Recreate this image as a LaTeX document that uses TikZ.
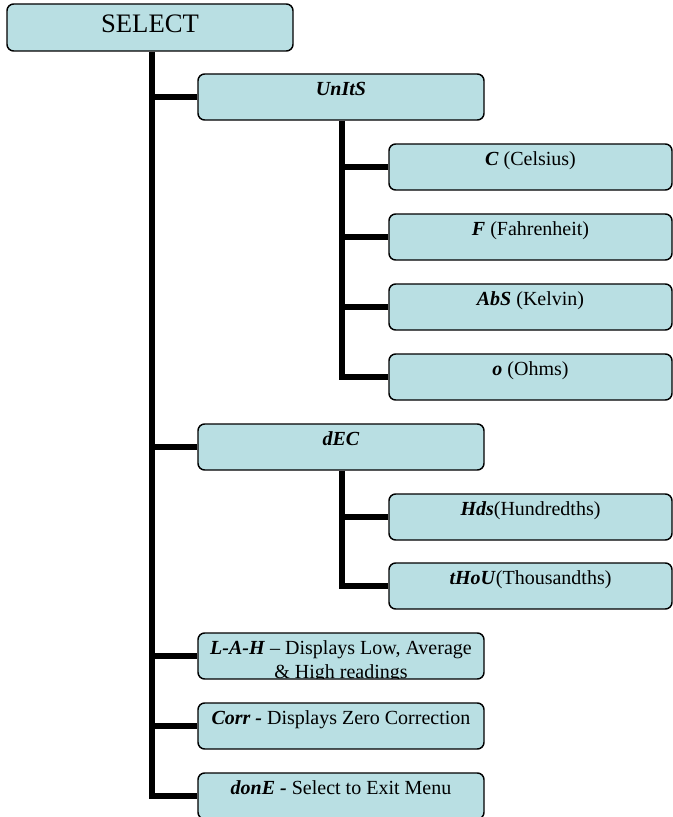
\documentclass[tikz,border=0pt]{standalone}
\usepackage{fontspec}
\setmainfont{Liberation Serif}
\definecolor{boxfill}{RGB}{185,223,227}
\newcommand\boxfont{\fontsize{15}{18}\selectfont}
\newcommand\kw[1]{\textbf{\textit{#1}}}
\tikzset{
  menubox/.style={draw=black, fill=boxfill, line width=1.1pt, rounded corners=5pt,
    inner sep=0pt, text height=15.75pt, text depth=18.75pt, font=\boxfont},
  headbox/.style={menubox, minimum width=214.5pt, text height=21.75pt, text depth=13.5pt,
    font=\fontsize{20}{24}\selectfont},
  topbox/.style={menubox, minimum width=214.5pt},
  subbox/.style={menubox, minimum width=212.25pt},
  branch/.style={line width=4.5pt}
}
\begin{document}
\begin{tikzpicture}[x=0.75pt,y=-0.75pt]
	  \useasboundingbox (0,0) rectangle (673,817);
	  \coordinate (trunk) at (152,0);
	  \coordinate (sub) at (342,0);
	  \node[headbox] (select) at (150,27.5) {SELECT};
	  \node[topbox] (units) at (341,97) {\kw{UnItS}};
	  \node[subbox] (cels) at (530.5,167) {\kw{C} (Celsius)};
	  \node[subbox] (fahr) at (530.5,237) {\kw{F} (Fahrenheit)};
	  \node[subbox] (kelv) at (530.5,307) {\kw{AbS} (Kelvin)};
	  \node[subbox] (ohms) at (530.5,377) {\kw{o} (Ohms)};
	  \node[topbox] (dec) at (341,447) {\kw{dEC}};
	  \node[subbox] (hds) at (530.5,517) {\kw{Hds}(Hundredths)};
	  \node[subbox] (thou) at (530.5,586) {\kw{tHoU}(Thousandths)};
	  \node[topbox] (lah) at (341,656) {};
	  \node[topbox] (corr) at (341,726) {\kw{Corr -} Displays Zero Correction};
	  \node[topbox] (done) at (341,796) {\kw{donE -} Select to Exit Menu};
	  % text of L-A-H runs past the box and is cut
	  \begin{scope}
	    \clip[rounded corners=5pt] ([yshift=1pt]lah.south west) rectangle (lah.north east);
	    \node[anchor=base, inner sep=0pt, font=\boxfont] (lahtop) at ([yshift=-16.5pt]lah.north) {\kw{L-A-H} -- Displays Low, Average};
	    \node[anchor=base, inner sep=0pt, font=\boxfont] (lahbot) at ([yshift=-34.5pt]lah.north) {\& High readings};
	  \end{scope}
	  \draw[branch] (trunk |- select.south) |- (done.west);
	  \foreach \n in {units,dec,lah,corr}
	    \draw[branch] (trunk |- \n.west) -- (\n.west);
	  \draw[branch] (sub |- units.south) |- (ohms.west);
	  \foreach \n in {cels,fahr,kelv}
	    \draw[branch] (sub |- \n.west) -- (\n.west);
	  \draw[branch] (sub |- dec.south) |- (thou.west);
	  \draw[branch] (sub |- hds.west) -- (hds.west);
	\end{tikzpicture}
\end{document}
